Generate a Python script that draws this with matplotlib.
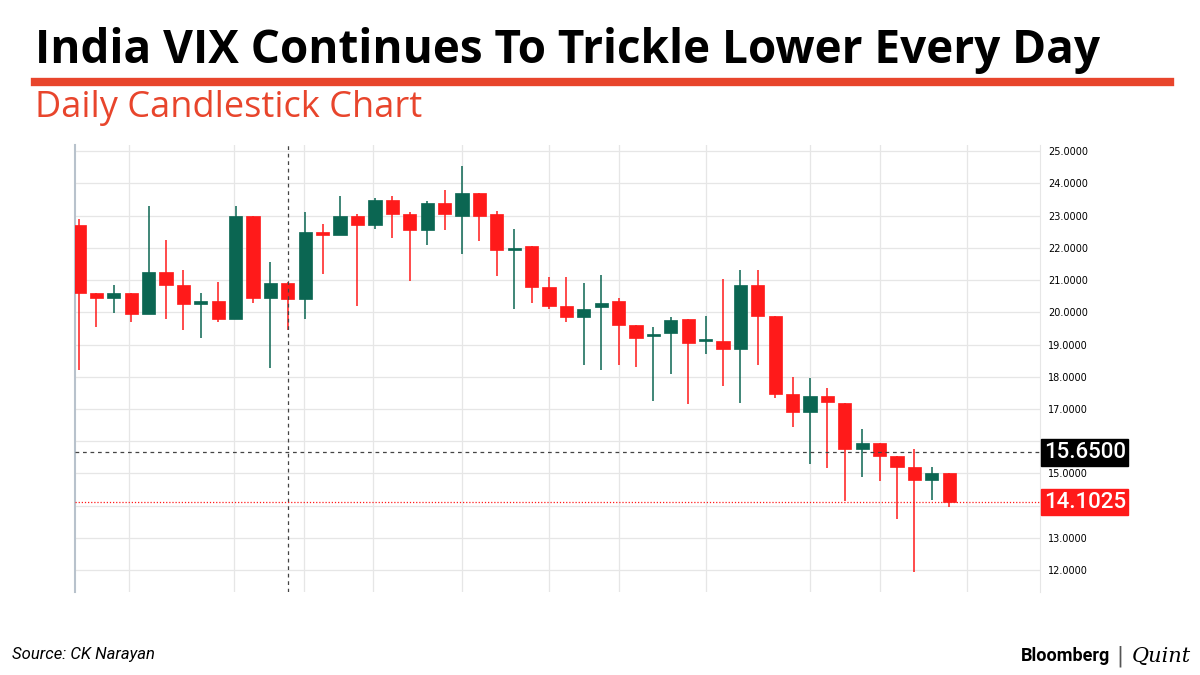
import matplotlib.pyplot as plt
from matplotlib.patches import Rectangle

opens = [22.7, 20.6, 20.45, 20.6, 19.95, 21.25, 20.85, 20.25, 20.35, 19.8,
         23.0, 20.45, 20.9, 20.4, 22.5, 22.4, 23.0, 22.7, 23.5, 23.05,
         22.55, 23.4, 23.0, 23.7, 23.05, 21.95, 22.05, 20.8, 20.2, 19.85,
         20.15, 20.35, 19.6, 19.28, 19.35, 19.8, 19.1, 19.1, 18.85, 20.85,
         19.9, 17.45, 16.9, 17.4, 17.2, 15.75, 15.95, 15.55, 15.2, 14.8, 15.0]
closes = [20.6, 20.45, 20.6, 19.95, 21.25, 20.85, 20.25, 20.35, 19.8, 23.0,
          20.45, 20.9, 20.4, 22.5, 22.4, 23.0, 22.7, 23.5, 23.05, 22.55,
          23.4, 23.05, 23.7, 23.0, 21.95, 22.0, 20.8, 20.2, 19.85, 20.1,
          20.3, 19.6, 19.2, 19.33, 19.75, 19.05, 19.15, 18.85, 20.85, 19.9,
          17.45, 16.9, 17.4, 17.22, 15.75, 15.95, 15.55, 15.2, 14.8, 15.0, 14.1]
highs = [22.9, 20.6, 20.85, 20.6, 23.3, 22.25, 21.3, 20.6, 20.95, 23.3,
         23.0, 21.55, 20.95, 23.1, 22.75, 23.6, 23.05, 23.55, 23.6, 23.1,
         23.45, 23.8, 24.55, 23.7, 23.15, 22.6, 22.05, 21.1, 21.1, 20.9,
         21.15, 20.45, 19.6, 19.55, 19.85, 19.8, 19.9, 21.05, 21.3, 21.3,
         19.9, 18.0, 17.95, 17.65, 17.2, 16.37, 15.95, 15.55, 15.75, 15.2, 15.0]
lows = [18.2, 19.55, 19.98, 19.7, 19.95, 19.8, 19.45, 19.2, 19.7, 19.8,
        20.3, 18.27, 19.45, 19.8, 21.2, 22.4, 20.2, 22.6, 22.3, 20.96,
        22.1, 22.55, 21.8, 22.2, 21.13, 20.1, 20.3, 20.1, 19.7, 18.35,
        18.2, 18.35, 18.3, 17.25, 18.1, 17.15, 18.7, 17.7, 17.2, 18.35,
        17.35, 16.45, 15.3, 15.17, 14.14, 14.9, 14.75, 13.58, 11.94, 14.16, 13.95]
y_ticks = [12, 13, 14, 15, 16, 17, 18, 19, 20, 21, 22, 23, 24, 25]
x_grid = [2.9, 8.9, 12.9, 16.9, 22, 27, 31, 36, 42, 46, 51]
crosshair_x = 12
crosshair_y = 15.65
last_price = 14.1025

GREEN = '#0b6652'
RED = '#ff1a1a'
ORANGE = '#e8452c'

fig = plt.figure(figsize=(12, 6.75), dpi=100)
ax = fig.add_axes([0.0625, 0.123, 0.804, 0.662])

for i, (o, c, h, l) in enumerate(zip(opens, closes, highs, lows)):
    col = GREEN if c >= o else RED
    ax.vlines(i, l, h, color=col, lw=1.1, zorder=3)
    bot = min(o, c)
    hgt = max(abs(c - o), 0.06)
    ax.add_patch(Rectangle((i - 0.38, bot), 0.76, hgt, facecolor=col,
                           edgecolor=col, lw=0.5, zorder=4))

ax.set_xlim(-0.23, 55.2)
ax.set_ylim(11.32, 25.19)
ax.set_yticks(y_ticks)
# 14 and 16 sit under the price boxes
ax.set_yticklabels(['' if v in (14, 16) else '%.4f' % v for v in y_ticks])
ax.yaxis.tick_right()
ax.tick_params(axis='y', length=0, labelsize=7, pad=6)
ax.set_xticks(x_grid)
ax.tick_params(axis='x', length=0, labelbottom=False)
ax.grid(True, color='#e6e6e6', lw=0.9, zorder=0)
for s in ['top', 'bottom']:
    ax.spines[s].set_visible(False)
ax.spines['right'].set_color('#e6e6e6')
ax.spines['left'].set_color('#b8c2cc')
ax.spines['left'].set_linewidth(1.5)

ax.axvline(crosshair_x, color='#444444', ls=(0, (3, 3)), lw=0.9, zorder=5)
ax.axhline(crosshair_y, color='#444444', ls=(0, (3, 3)), lw=0.9, zorder=5)
ax.axhline(last_price, color=RED, ls=(0, (1, 1.5)), lw=0.9, zorder=5)
ax.text(1.004, crosshair_y, '%.4f' % crosshair_y, transform=ax.get_yaxis_transform(),
        va='center', ha='left', color='white', fontsize=16, fontfamily='Roboto',
        fontweight='medium',
        bbox=dict(boxstyle='square,pad=0.12', fc='black', ec='black'), zorder=6)
ax.text(1.004, last_price, '%.4f' % last_price, transform=ax.get_yaxis_transform(),
        va='center', ha='left', color='white', fontsize=16, fontfamily='Roboto',
        fontweight='medium',
        bbox=dict(boxstyle='square,pad=0.12', fc=RED, ec=RED), zorder=6)

fig.text(0.029, 0.925, 'India VIX Continues To Trickle Lower Every Day', fontsize=33,
         fontweight='bold', fontfamily='Open Sans', va='center', ha='left')
fig.add_artist(plt.Line2D([0.029, 0.975], [0.878, 0.878], color=ORANGE, lw=6))
fig.text(0.029, 0.84, 'Daily Candlestick Chart', fontsize=26, color=ORANGE,
         fontfamily='Open Sans', va='center', ha='left')
fig.text(0.01, 0.03, 'Source: CK Narayan', fontsize=12, style='italic',
         fontfamily='Roboto', va='center', ha='left')
fig.text(0.925, 0.028, 'Bloomberg', fontsize=13, fontweight='bold',
         fontfamily='Roboto', va='center', ha='right')
fig.text(0.933, 0.028, '|', fontsize=15, color='#555555', va='center', ha='center')
fig.text(0.943, 0.028, 'Quint', fontsize=15, style='italic', fontfamily='DejaVu Serif',
         va='center', ha='left')

fig.savefig('out.png', dpi=100)
